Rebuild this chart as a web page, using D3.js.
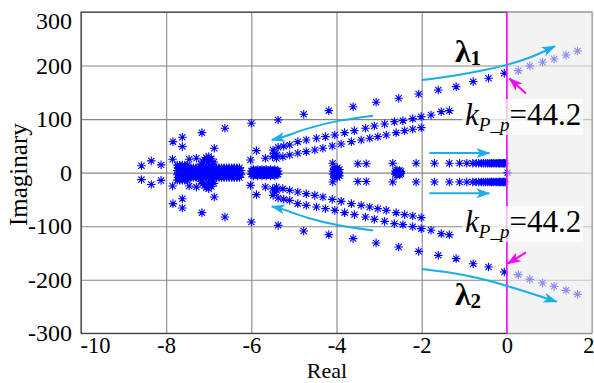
<!DOCTYPE html>
<html>
<head>
<meta charset="utf-8">
<script src="https://cdn.jsdelivr.net/npm/d3@7"></script>
<style>
  body { margin: 0; background: #fff; }
  text { font-family: "Liberation Serif", "Times New Roman", serif; }
</style>
</head>
<body>
<svg id="chart" width="594" height="383"></svg>
<script>
// tick values
const xTicks = [-10, -8, -6, -4, -2, 0, 2];
const yTicks = [-300, -200, -100, 0, 100, 200, 300];

// eigenvalues, upper half only (conjugates are drawn mirrored)
// outer branch (lambda1 / lambda2), crosses into the right half plane
const outerBranch = [
  [-7.16, 74.7], [-6.62, 82.9], [-6.0, 92.2], [-5.37, 98.4], [-4.77, 109], [-4.18, 115.8],
  [-3.61, 123.2], [-3.07, 131.5], [-2.54, 138.9], [-2.07, 147], [-1.61, 154.4], [-1.19, 160.6],
  [-0.79, 170], [-0.43, 176.3], [-0.06, 185.6], [0.27, 190.5], [0.54, 199.3], [0.84, 206.2],
  [1.11, 212.3], [1.39, 219.8], [1.66, 227.3]
];
const innerUpper = [
  [-5.49, 42.4], [-5.37, 47.4], [-5.24, 49.5], [-5.10, 51.7], [-4.91, 57.9], [-4.71, 61.1],
  [-4.47, 64.2], [-4.26, 67.2], [-4.04, 70.4], [-3.81, 74.7], [-3.58, 78.4], [-3.32, 82.9],
  [-3.11, 87.2], [-2.87, 90.9], [-2.64, 95.2], [-2.44, 97.1], [-2.21, 100.8], [-2.01, 104.6],
  [-1.78, 107.7], [-1.54, 113.9], [-1.35, 115.8]
];
const innerLower = [
  [-5.41, 26.9], [-5.26, 29.9], [-5.10, 33.1], [-4.91, 36.2], [-4.71, 39.2], [-4.51, 42.4],
  [-4.32, 45.6], [-4.10, 49.9], [-3.89, 53.6], [-3.65, 57.9], [-3.42, 61.1], [-3.22, 64.2],
  [-3.03, 67.2], [-2.83, 70.4], [-2.60, 74.7], [-2.40, 78.4], [-2.21, 81], [-2.01, 84]
];
// branch running right close to the real axis
const nearAxis = [
  [-4.09, 17.5], [-3.50, 16.5], [-3.30, 16.5], [-2.68, 17.5], [-2.13, 17.5], [-1.70, 17.5],
  [-1.35, 17.5], [-1.11, 17.5], [-0.94, 17.5], [-0.80, 17.5], [-0.72, 17.5], [-0.66, 17.5],
  [-0.60, 17.5], [-0.55, 17.5], [-0.50, 17.5], [-0.45, 17.5], [-0.40, 17.5], [-0.36, 17.5],
  [-0.32, 17.5], [-0.28, 17.5], [-0.24, 17.5], [-0.20, 17.5], [-0.17, 17.5], [-0.14, 17.5],
  [-0.11, 17.5], [-0.08, 17.5], [-0.06, 17.5], [-0.04, 17.5]
];
// scattered poles on the left
const leftScatter = [
  [-8.58, 13], [-8.35, 22], [-8.12, 14.5], [-7.85, 25], [-7.84, 57.9], [-7.62, 66.1],
  [-7.62, 48.6], [-7.46, 25], [-7.29, 27], [-6.87, 45.6], [-6.02, 23.7], [-5.88, 41.1],
  [-5.67, 26.9], [-5.5, 30], [-5.45, 36], [-5.4, 33]
];
// dense clusters on / near the real axis
const clusterA = [
  [-7.74, 4], [-7.69, 4], [-7.64, 4], [-7.59, 4], [-7.54, 4], [-7.49, 4], [-7.44, 4], [-7.39, 4],
  [-7.34, 4], [-7.29, 4], [-7.24, 4], [-7.19, 4], [-7.14, 4], [-7.09, 4], [-7.04, 4], [-6.99, 4],
  [-6.94, 4], [-6.89, 4], [-6.84, 4], [-6.79, 4], [-6.74, 4], [-6.69, 4], [-6.64, 4], [-6.59, 4],
  [-6.54, 4], [-6.49, 4], [-6.44, 4], [-6.39, 4], [-6.34, 4], [-6.29, 4], [-6.24, 4],
  [-7.72, 9], [-7.66, 9], [-7.6, 9], [-7.54, 9], [-7.48, 9], [-7.42, 9], [-7.36, 9], [-7.3, 9],
  [-7.24, 9], [-7.18, 9], [-7.12, 9], [-7.06, 9], [-7.0, 9], [-6.94, 9], [-6.88, 9], [-6.82, 9],
  [-6.76, 9], [-6.7, 9], [-6.64, 9], [-6.58, 9], [-6.52, 9], [-6.46, 9], [-6.4, 9], [-6.34, 9],
  [-6.28, 9],
  [-7.74, 14], [-7.68, 14], [-7.62, 14], [-7.56, 14], [-7.5, 14],
  [-7.18, 16], [-7.14, 20], [-7.1, 24], [-7.06, 28], [-7.02, 18], [-6.98, 22], [-6.94, 26],
  [-6.9, 16], [-6.88, 20], [-7.0, 30]
];
const clusterB = [
  [-6.0, 3], [-5.97, 3], [-5.94, 3], [-5.91, 3], [-5.88, 3], [-5.85, 3], [-5.82, 3], [-5.79, 3],
  [-5.76, 3], [-5.73, 3], [-5.7, 3], [-5.67, 3], [-5.64, 3], [-5.61, 3], [-5.58, 3], [-5.55, 3],
  [-5.52, 3], [-5.49, 3], [-5.46, 3], [-5.43, 3], [-5.4, 3], [-5.37, 3],
  [-5.95, 6], [-5.85, 6], [-5.75, 6], [-5.65, 6], [-5.55, 6], [-5.45, 6]
];
const clusterC = [
  [-4.08, 3], [-4.05, 6], [-4.02, 2], [-3.99, 5], [-3.96, 3], [-3.93, 6], [-4.04, 9],
  [-3.98, 9], [-4.0, 0], [-3.94, 0]
];
const clusterD = [[-2.62, 3], [-2.58, 5], [-2.55, 2], [-2.52, 4], [-2.49, 2], [-2.6, 0], [-2.5, 0]];
const originPole = [[0.02, 0]];

const W = 594, H = 383;
const margin = {top: 12, right: 2, bottom: 50, left: 81};
const serif = "'Liberation Serif', 'Times New Roman', serif";

const svg = d3.select("#chart");

const x = d3.scaleLinear().domain([-10, 2]).range([margin.left, W - margin.right]);
const y = d3.scaleLinear().domain([-300, 300]).range([H - margin.bottom + 0.3, margin.top]);

const plotH = y(-300) - y(300);
const plotW = x(2) - x(-10);

// grid
svg.append("g")
  .attr("transform", `translate(0,${y(-300)})`)
  .call(d3.axisBottom(x).tickValues(xTicks).tickSize(-plotH).tickFormat(""))
  .call(g => g.select(".domain").remove())
  .selectAll("line").attr("stroke", "#868686").attr("stroke-width", 1.1);

svg.append("g")
  .attr("transform", `translate(${x(-10)},0)`)
  .call(d3.axisLeft(y).tickValues(yTicks).tickSize(-plotW).tickFormat(""))
  .call(g => g.select(".domain").remove())
  .selectAll("line").attr("stroke", "#868686").attr("stroke-width", 1.1);

// tick labels
const xAxis = svg.append("g")
  .attr("transform", `translate(0,${y(-300)})`)
  .call(d3.axisBottom(x).tickValues(xTicks).tickSize(0).tickPadding(3.7));
xAxis.attr("font-family", serif);
xAxis.select(".domain").remove();
xAxis.selectAll("text")
  .attr("font-size", 22.5).attr("fill", "#000")
  .text(d => d < 0 ? "-" + Math.abs(d) : d)
  .attr("text-anchor", d => d === -10 ? "start" : d === 2 ? "end" : "middle")
  .attr("x", d => d === -10 ? -1 : d === 2 ? 2 : 0);

const yAxis = svg.append("g")
  .attr("transform", `translate(${x(-10)},0)`)
  .call(d3.axisLeft(y).tickValues(yTicks).tickSize(0).tickPadding(9));
yAxis.attr("font-family", serif);
yAxis.select(".domain").remove();
yAxis.selectAll("text")
  .attr("font-size", 24).attr("fill", "#000")
  .text(d => d < 0 ? "-" + Math.abs(d) : d)
  .attr("y", d => d === 300 ? 9 : 0);

// axis titles
svg.append("text")
  .attr("x", 327).attr("y", 378)
  .attr("text-anchor", "middle").attr("font-size", 22).attr("font-family", serif)
  .text("Real");
svg.append("text")
  .attr("transform", `translate(27,${y(0) + 2}) rotate(-90)`)
  .attr("text-anchor", "middle").attr("font-size", 25).attr("font-family", serif)
  .text("Imaginary");

// markers
svg.append("clipPath").attr("id", "plotclip")
  .append("rect").attr("x", x(-10)).attr("y", y(300)).attr("width", plotW).attr("height", plotH);

const poles = [...outerBranch, ...innerUpper, ...innerLower, ...nearAxis, ...leftScatter,
  ...clusterA, ...clusterB, ...clusterC, ...clusterD, ...originPole];
const allPoles = poles.flatMap(([re, im]) => im === 0 ? [[re, im]] : [[re, im], [re, -im]]);

const r = 4.3, dg = 3.1;
const star = `M${-r},0H${r}M0,${-r}V${r}M${-dg},${-dg}L${dg},${dg}M${-dg},${dg}L${dg},${-dg}`;

svg.append("g").attr("clip-path", "url(#plotclip)")
  .selectAll("path")
  .data(allPoles)
  .join("path")
  .attr("transform", d => `translate(${x(d[0])},${y(d[1])})`)
  .attr("d", star)
  .attr("fill", "none")
  .attr("stroke", "#0000ff")
  .attr("stroke-width", 1.1);

// frame
svg.append("rect")
  .attr("x", x(-10)).attr("y", y(300))
  .attr("width", plotW).attr("height", plotH)
  .attr("fill", "none").attr("stroke", "#262626").attr("stroke-width", 1);

// unstable region shading
svg.append("rect")
  .attr("x", x(0)).attr("y", y(300) - 0.5)
  .attr("width", x(2) - x(0) + 1).attr("height", plotH + 1)
  .attr("fill", "rgb(235,235,235)").attr("fill-opacity", 0.6);

// imaginary axis
svg.append("line")
  .attr("x1", x(0)).attr("x2", x(0))
  .attr("y1", y(300)).attr("y2", y(-300))
  .attr("stroke", "#ff00ff").attr("stroke-width", 1.5);

// k labels
function kLabel(xv, yv) {
  const t = svg.append("text")
    .attr("x", x(xv)).attr("y", y(yv))
    .attr("font-size", 31).attr("fill", "#000").attr("font-family", serif);
  t.append("tspan").attr("font-style", "italic").text("k");
  t.append("tspan").attr("font-style", "italic").attr("font-size", 19).attr("dy", 6).text("P_p");
  t.append("tspan").attr("dy", -6).text("=44.2");
  const b = t.node().getBBox();
  svg.insert("rect", () => t.node())
    .attr("x", b.x - 3).attr("y", b.y + 2)
    .attr("width", b.width + 5).attr("height", b.height - 2)
    .attr("fill", "#fff").attr("fill-opacity", 0.72);
}
kLabel(-0.98, 89);
kLabel(-0.98, -111);

// lambda labels
function lambdaLabel(xv, yv, sub) {
  const t = svg.append("text")
    .attr("x", x(xv)).attr("y", y(yv))
    .attr("font-size", 32).attr("font-weight", "bold").attr("fill", "#000")
    .attr("font-family", serif);
  t.append("tspan").text("λ");
  t.append("tspan").attr("font-size", 21).attr("dy", 3).text(sub);
}
lambdaLabel(-1.22, 207, "1");
lambdaLabel(-1.22, -247, "2");

// arrows
const defs = svg.append("defs");
function head(id, color) {
  defs.append("marker")
    .attr("id", id).attr("markerUnits", "userSpaceOnUse")
    .attr("viewBox", "0 0 14 10").attr("markerWidth", 14).attr("markerHeight", 10)
    .attr("refX", 13).attr("refY", 5).attr("orient", "auto")
    .append("path").attr("d", "M0,0L14,5L0,10L3.5,5Z").attr("fill", color);
}
head("cyanHead", "#1aaee6");
head("magHead", "#ff00ff");

const line = d3.line().x(d => x(d[0])).y(d => y(d[1])).curve(d3.curveBasis);

const cyanArrows = [
  [[-2.0, 173], [-1.26, 180], [-0.47, 192], [0, 201], [0.55, 214], [1.13, 236]],
  [[-2.0, -180], [-1.42, -185], [-0.63, -197], [0, -211], [1.17, -241]],
  [[-3.14, 106.4], [-3.92, 98.4], [-4.70, 82.9], [-5.25, 66.1], [-5.52, 61.1]],
  [[-3.14, -108], [-3.92, -100], [-4.70, -85], [-5.25, -68], [-5.52, -63]],
  [[-1.82, 36.5], [-0.41, 36.5]],
  [[-1.82, -38.5], [-0.41, -38.5]]
];
svg.append("g").selectAll("path")
  .data(cyanArrows)
  .join("path")
  .attr("d", line)
  .attr("fill", "none").attr("stroke", "#1aaee6").attr("stroke-width", 2)
  .attr("marker-end", "url(#cyanHead)");

const magArrows = [
  [[0.45, 148], [0.06, 176]],
  [[0.45, -149], [0.02, -170]]
];
svg.append("g").selectAll("path")
  .data(magArrows)
  .join("path")
  .attr("d", line)
  .attr("fill", "none").attr("stroke", "#ff00ff").attr("stroke-width", 2)
  .attr("marker-end", "url(#magHead)");
</script>
</body>
</html>
